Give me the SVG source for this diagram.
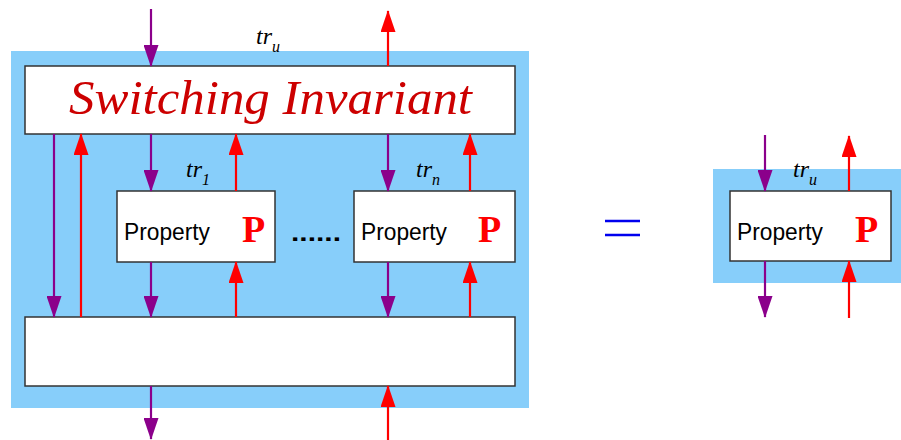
<svg xmlns="http://www.w3.org/2000/svg" width="901" height="440" viewBox="0 0 901 440">
<style>
.bg{fill:#87cefa}
.box{fill:#fff;stroke:#333;stroke-width:1.5}
.pu{stroke:#8b008b;stroke-width:2.2;fill:none;marker-end:url(#mp)}
.rd{stroke:#ff0000;stroke-width:2.2;fill:none;marker-end:url(#mr)}
.prop{font-family:"Liberation Sans",Arial,sans-serif;font-size:24px;fill:#000}
.P{font-family:"Liberation Serif","Times New Roman",serif;font-weight:bold;font-size:38px;fill:#ff0000}
.tr{font-family:"Liberation Serif","Times New Roman",serif;font-style:italic;font-size:24px;fill:#000}
.title{font-family:"Liberation Serif","Times New Roman",serif;font-style:italic;font-size:48px;fill:#cc0000}
.sub{font-size:16px}
</style>
<defs>
<marker id="mp" markerWidth="22" markerHeight="15" refX="21" refY="7.5" orient="auto" markerUnits="userSpaceOnUse" viewBox="0 0 22 15"><path d="M0,0 L22,7.5 L0,15 Z" fill="#8b008b"/></marker>
<marker id="mr" markerWidth="22" markerHeight="15" refX="21" refY="7.5" orient="auto" markerUnits="userSpaceOnUse" viewBox="0 0 22 15"><path d="M0,0 L22,7.5 L0,15 Z" fill="#ff0000"/></marker>
</defs>
<g id="outer-left"><rect class="bg" x="11" y="51" width="518" height="357"/></g>
<g id="switching-invariant">
<rect class="box" x="25" y="66" width="490" height="68"/>
<text class="title" x="69" y="114" textLength="403" lengthAdjust="spacingAndGlyphs">Switching Invariant</text>
</g>
<g id="property-1">
<rect class="box" x="117" y="191" width="158" height="71"/>
<text class="prop" x="124" y="240" textLength="86" lengthAdjust="spacingAndGlyphs">Property</text>
<text class="P" x="242" y="242">P</text>
</g>
<g id="property-n">
<rect class="box" x="354" y="191" width="161" height="71"/>
<text class="prop" x="361" y="240" textLength="86" lengthAdjust="spacingAndGlyphs">Property</text>
<text class="P" x="478" y="242">P</text>
</g>
<g id="dots"><text x="291" y="241" font-family="Liberation Sans, Arial, sans-serif" font-weight="bold" font-size="24" textLength="50" lengthAdjust="spacingAndGlyphs">......</text></g>
<g id="bottom-box"><rect class="box" x="25" y="317" width="490" height="69"/></g>
<g id="labels-left">
<text class="tr" x="256" y="44">tr<tspan class="sub" dy="8">u</tspan></text>
<text class="tr" x="186" y="177">tr<tspan class="sub" dy="8">1</tspan></text>
<text class="tr" x="416" y="177">tr<tspan class="sub" dy="8">n</tspan></text>
</g>
<g id="equals"><line x1="605" y1="221" x2="640" y2="221" stroke="#0000ee" stroke-width="2.5"/><line x1="605" y1="235" x2="640" y2="235" stroke="#0000ee" stroke-width="2.5"/></g>
<g id="outer-right"><rect class="bg" x="713" y="169" width="188" height="114"/></g>
<g id="property-u">
<rect class="box" x="730" y="191" width="161" height="70"/>
<text class="prop" x="737" y="240" textLength="86" lengthAdjust="spacingAndGlyphs">Property</text>
<text class="P" x="855" y="242">P</text>
<text class="tr" x="793" y="177">tr<tspan class="sub" dy="8">u</tspan></text>
</g>
<g id="connectors">
<line class="pu" x1="151" y1="9" x2="151" y2="66"/>
<line class="rd" x1="388" y1="66" x2="388" y2="11"/>
<line class="pu" x1="54" y1="134" x2="54" y2="317"/>
<line class="rd" x1="81" y1="317" x2="81" y2="134"/>
<line class="pu" x1="151" y1="134" x2="151" y2="191"/>
<line class="rd" x1="236" y1="191" x2="236" y2="134"/>
<line class="pu" x1="388" y1="134" x2="388" y2="191"/>
<line class="rd" x1="470" y1="191" x2="470" y2="134"/>
<line class="pu" x1="151" y1="262" x2="151" y2="317"/>
<line class="rd" x1="236" y1="317" x2="236" y2="262"/>
<line class="pu" x1="388" y1="262" x2="388" y2="317"/>
<line class="rd" x1="470" y1="317" x2="470" y2="262"/>
<line class="pu" x1="151" y1="386" x2="151" y2="439"/>
<line class="rd" x1="388" y1="440" x2="388" y2="386"/>
<line class="pu" x1="765" y1="135" x2="765" y2="191"/>
<line class="rd" x1="849" y1="191" x2="849" y2="136"/>
<line class="pu" x1="765" y1="261" x2="765" y2="317"/>
<line class="rd" x1="849" y1="318" x2="849" y2="261"/>
</g>
</svg>
